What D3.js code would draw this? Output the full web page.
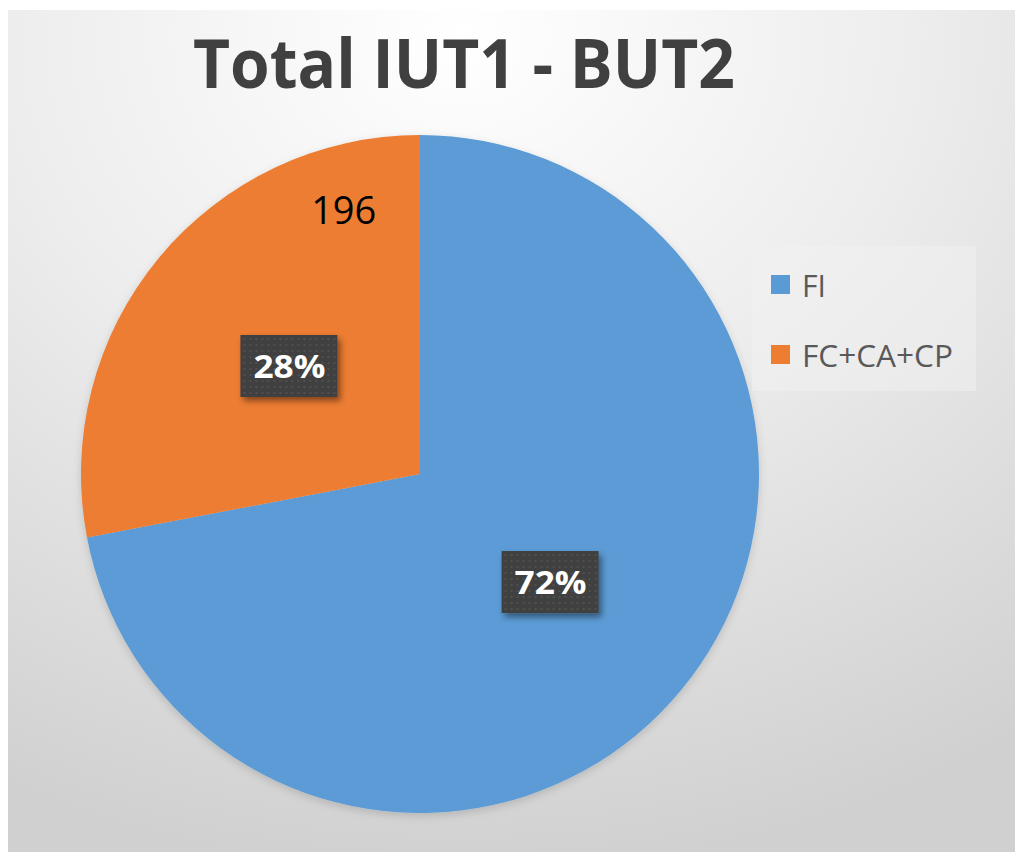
<!DOCTYPE html>
<html>
<head>
<meta charset="utf-8">
<script src="https://cdn.jsdelivr.net/npm/d3@7"></script>
<style>
html,body{margin:0;padding:0;background:#fff;}
svg{display:block;}
</style>
</head>
<body>
<svg id="chart" width="1015" height="856"></svg>
<script>
const title = "Total IUT1 - BUT2";
const categories = ["FI", "FC+CA+CP"];
const values = [504, 196];
const colors = ["#5b9bd5", "#ed7d31"];
const annotationText = "196";

const W = 1015, H = 856;
const svg = d3.select("#chart");
const defs = svg.append("defs");

const bg = defs.append("radialGradient").attr("id","bg")
  .attr("cx","0.45").attr("cy","0.03").attr("r","1.0");
bg.append("stop").attr("offset","0%").attr("stop-color","#ffffff");
bg.append("stop").attr("offset","45%").attr("stop-color","#ededed");
bg.append("stop").attr("offset","100%").attr("stop-color","#d0d0d0");

const dots = defs.append("pattern").attr("id","dots").attr("patternUnits","userSpaceOnUse")
  .attr("width",6).attr("height",6);
dots.append("rect").attr("width",6).attr("height",6).attr("fill","#3f3f3f");
dots.append("circle").attr("cx",3).attr("cy",3).attr("r",1).attr("fill","#565656");

const sh = defs.append("filter").attr("id","shadow").attr("x","-30%").attr("y","-30%").attr("width","170%").attr("height","180%");
sh.append("feDropShadow").attr("dx",3).attr("dy",4).attr("stdDeviation",3).attr("flood-color","#000").attr("flood-opacity",0.45);

const pshadow = defs.append("filter").attr("id","pshadow").attr("x","-10%").attr("y","-10%").attr("width","120%").attr("height","125%");
pshadow.append("feDropShadow").attr("dx",0).attr("dy",3).attr("stdDeviation",4).attr("flood-color","#000").attr("flood-opacity",0.15);

// chart area background
svg.append("rect").attr("x",8).attr("y",10).attr("width",W-8).attr("height",842).attr("fill","url(#bg)");

// title
const t = svg.append("text").attr("x",464).attr("y",88)
  .attr("text-anchor","middle")
  .attr("font-family","'Open Sans', sans-serif").attr("font-weight",700)
  .attr("font-size",68).attr("fill","#404040").text(title);
t.attr("textLength",542).attr("lengthAdjust","spacingAndGlyphs");

// pie
const cx = 420, cy = 474, r = 339;
const pie = d3.pie().sort(null).value(d => d.v);
const data = pie(categories.map((c,i)=>({c, v: values[i], col: colors[i]})));
const arc = d3.arc().innerRadius(0).outerRadius(r);
const g = svg.append("g").attr("transform",`translate(${cx},${cy})`);
g.append("g").attr("filter","url(#pshadow)").selectAll("path").data(data).join("path")
  .attr("d",arc).attr("fill",d=>d.data.col);

// percentage labels
const total = d3.sum(values);
const fmt = d3.format(".0%");
data.forEach(d => {
  const [x,y] = arc.centroid(d);
  const lg = g.append("g").attr("transform",`translate(${x},${y})`);
  lg.append("rect").attr("x",-49).attr("y",-31).attr("width",97).attr("height",62)
    .attr("fill","url(#dots)").attr("filter","url(#shadow)");
  lg.append("text").attr("x",0).attr("y",12).attr("text-anchor","middle")
    .attr("font-family","'Open Sans', sans-serif").attr("font-weight",700)
    .attr("font-size",33).attr("fill","#ffffff").text(fmt(d.data.v/total))
    .attr("textLength",72).attr("lengthAdjust","spacingAndGlyphs");
});

// annotation on the orange slice
const orange = data[1];
const annAngle = orange.endAngle - (orange.endAngle - orange.startAngle)*0.16;
const annR = r*0.81;
g.append("text")
  .attr("x", annR*Math.sin(annAngle)).attr("y", -annR*Math.cos(annAngle)+14)
  .attr("text-anchor","middle")
  .attr("font-family","'Open Sans', sans-serif").attr("font-size",38).attr("fill","#000")
  .text(annotationText);

// legend
const legend = svg.append("g");
legend.append("rect").attr("x",752).attr("y",246).attr("width",224).attr("height",145).attr("fill","#f2f2f2").attr("opacity",0.5);
categories.forEach((c,i)=>{
  const y = 275 + i*70;
  legend.append("rect").attr("x",771).attr("y",y).attr("width",19).attr("height",19).attr("fill",colors[i]);
  const tx = legend.append("text").attr("x",802).attr("y",y+22)
    .attr("font-family","'Open Sans', sans-serif").attr("font-size",31).attr("fill","#595959").text(c);
  if (i===1) tx.attr("textLength",151).attr("lengthAdjust","spacingAndGlyphs");
  else tx.attr("textLength",24).attr("lengthAdjust","spacingAndGlyphs");
});
</script>
</body>
</html>
